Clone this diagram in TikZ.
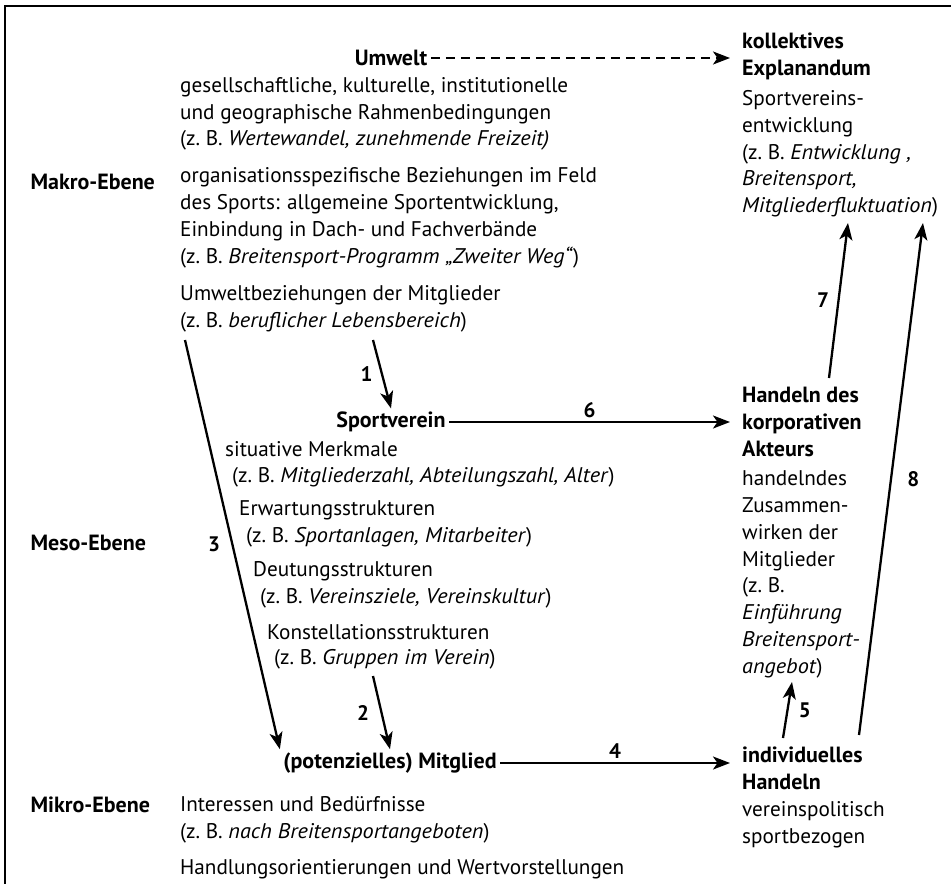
\documentclass[tikz,border=0pt]{standalone}
\usepackage{fontspec}
\setmainfont{PT Sans}[ItalicFeatures={FakeStretch=1.05}]
\usetikzlibrary{arrows.meta, positioning}

\tikzset{
  every node/.style={font=\fontsize{21.2}{26.8}\selectfont},
  ebene/.style={font=\fontsize{22}{26.8}\selectfont\bfseries, anchor=west},
  kopf/.style={font=\fontsize{22}{26.8}\selectfont\bfseries},
  block/.style={align=left, anchor=north west, inner sep=0pt},
  zeile/.style={anchor=west, inner sep=0pt},
  pfeil/.style={-{Stealth[length=17pt,width=13pt,inset=4.5pt]}, line width=2.3pt},
  nummer/.style={font=\fontsize{21}{26.8}\selectfont\bfseries},
}

\begin{document}
\begin{tikzpicture}[x=1pt, y=-1pt]
  \useasboundingbox (0,0) rectangle (951,884);
  \draw[line width=1.2pt] (5,884) -- (5,6) -- (951,6);

  % Ebenen
  \node[ebene] (makro) at (27,182) {Makro-Ebene};
  \node[ebene] (meso) at (27,543) {Meso-Ebene};
  \node[ebene] (mikro) at (27,805) {Mikro-Ebene};

  % Makro-Ebene
  \node[kopf] (umwelt) at (391,58) {Umwelt};
  \node[block] (umwelt1) at (180,77) {gesellschaftliche, kulturelle, institutionelle\\und geographische Rahmenbedingungen\\(z.~B. \textit{Wertewandel, zunehmende Freizeit)}};
  \node[block, below right=17pt and 0pt of umwelt1.south west] (umwelt2) {organisationsspezifische Beziehungen im Feld\\des Sports: allgemeine Sportentwicklung,\\Einbindung in Dach- und Fachverbände\\(z.~B. \textit{Breitensport-Programm „Zweiter Weg“})};
  \node[block, below right=17pt and 0pt of umwelt2.south west] (umwelt3) {Umweltbeziehungen der Mitglieder\\(z.~B. \textit{beruflicher Lebensbereich})};

  \node[kopf, block] (kollektiv) at (742,33) {kollektives\\Explanandum};
  \node[block, below right=10pt and 0pt of kollektiv.south west] (kollektiv-t) {Sportvereins-\\entwicklung\\(z.~B. \textit{Entwicklung ,}\\\textit{Breitensport,}\\\textit{Mitgliederfluktuation})};

  % Meso-Ebene
  \node[kopf] (verein) at (391,422) {Sportverein};
  \foreach \x/\y/\t [count=\i] in {225/449/{situative Merkmale},
      232/477/{(z.~B. \textit{Mitgliederzahl, Abteilungszahl, Alter})},
      239/510/{Erwartungsstrukturen},
      246/537/{(z.~B. \textit{Sportanlagen, Mitarbeiter})},
      253/571/{Deutungsstrukturen},
      260/598/{(z.~B. \textit{Vereinsziele, Vereinskultur})},
      267/632/{Konstellationsstrukturen},
      274/659/{(z.~B. \textit{Gruppen im Verein})}}
    \node[zeile] (merkmal-\i) at (\x,\y) {\t};

  \node[kopf, block] (korporativ) at (742,387) {Handeln des\\korporativen\\Akteurs};
  \node[block, below right=14pt and 0pt of korporativ.south west] (korporativ-t) {handelndes\\Zusammen-\\wirken der\\Mitglieder\\(z.~B.\\\textit{Einführung}\\\textit{Breitensport-}\\\textit{angebot})};

  % Mikro-Ebene
  \node[kopf] (mitglied) at (390,763) {(potenzielles) Mitglied};
  \node[block] (mitglied1) at (180,796) {Interessen und Bedürfnisse\\(z.~B. \textit{nach Breitensportangeboten})};
  \node[block, below right=16pt and 0pt of mitglied1.south west] (mitglied2) {Handlungsorientierungen und Wertvorstellungen};

  \node[kopf, block] (individuell) at (742,747) {individuelles\\Handeln};
  \node[block, below right=11pt and 0pt of individuell.south west] (individuell-t) {vereinspolitisch\\sportbezogen};

  % Pfeile
  \coordinate (start1) at (373,340);
  \coordinate (start3) at (185,340);
  \coordinate (start2) at (373,676);
  \coordinate (start5) at (783,738);
  \coordinate (ziel5) at (792,682);
  \coordinate (start7) at (829,378);
  \coordinate (ziel7) at (848,223);
  \coordinate (start8) at (859,735);
  \coordinate (ziel8) at (923,223);

  \draw[pfeil, dash pattern=on 9pt off 6pt] (umwelt.east) -- ([xshift=-12pt]umwelt -| kollektiv.west);
  \draw[pfeil] (verein.east) -- node[nummer, above] {6} ([xshift=-12pt]verein -| korporativ.west);
  \draw[pfeil] (mitglied.east) -- node[nummer, above] {4} ([xshift=-12pt]mitglied -| individuell.west);
  \draw[pfeil] (start1) -- node[nummer, left=5pt] {1} (verein.north);
  \draw[pfeil] (start3) -- node[nummer, left=8pt] {3} (mitglied.north west);
  \draw[pfeil] (start2) -- node[nummer, left=8pt] {2} (mitglied.north);
  \draw[pfeil] (start5) -- node[nummer, right=7pt] {5} (ziel5);
  \draw[pfeil] (start7) -- node[nummer, left=5pt] {7} (ziel7);
  \draw[pfeil] (start8) -- node[nummer, right=12pt] {8} (ziel8);
\end{tikzpicture}
\end{document}
